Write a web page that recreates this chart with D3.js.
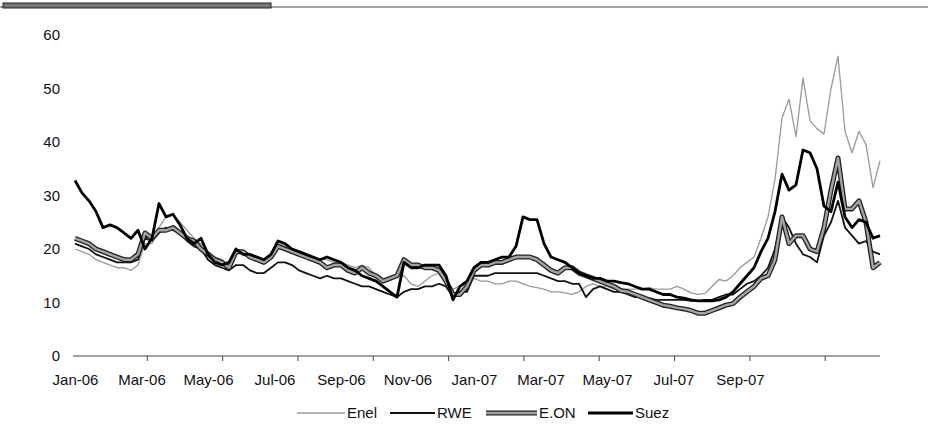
<!DOCTYPE html>
<html><head><meta charset="utf-8">
<script src="https://cdn.jsdelivr.net/npm/d3@7"></script>
<style>
html,body{margin:0;padding:0;background:#fff;}
svg text{font-family:"Liberation Sans",Arial,sans-serif;fill:#111;}
</style></head>
<body><svg id="c" width="928" height="431"></svg>
<script>
// ---- data (evenly spaced observations, Jan-06 .. early Oct-07) ----
const monthLabels = ["Jan-06","Mar-06","May-06","Jul-06","Sep-06","Nov-06","Jan-07","Mar-07","May-07","Jul-07","Sep-07"];
const yTicks = [0,10,20,30,40,50,60];
const seriesNames = ["Enel","RWE","E.ON","Suez"];

const suez = [32.8,30.5,29,27,24,24.5,24,23,22,23.5,20,22,28.5,26,26.5,24.5,22,21,22,19,
17.5,17,17.5,20,19,19,18.5,18,19,21.5,21,20,19.5,19,18.5,18,18.5,18,17.5,16.5,
16,15,14.5,14,13,12,11,17.5,16.5,16.5,17,17,17,15,10.5,13,14,16.5,17.5,17.5,
18,18.5,18.5,20.5,26,25.5,25.5,21,18.5,18,17.5,16.5,15.5,15,14.5,14.5,14,14,13.7,13.5,
13,12.5,12.5,12,11.5,11.5,11,10.8,10.5,10.3,10.3,10.3,10.5,11,12,13.5,15,16.5,19.5,22,
27,34,31,32,38.5,38,35,28,27,32.5,26,24,25.5,25,22,22.5];

const rwe = [21,20.5,20,19,18.5,18,17.5,17.5,17.5,18,22,21.5,23,24,23.5,23,21.5,20.5,20,18,
17,16.5,16,17,17,16,15.5,15.5,16.5,17.5,17.5,17,16,15.5,15,14.5,15,14.5,14.5,14,
13.5,13,13,12.5,12,11.5,11,12,12.5,12.5,13,13,13.5,13,11,12,12,15,15,15,
15.5,15.5,15.5,15.5,15.5,15.5,15.5,15,14.5,14,14,13.5,13.5,11,12.5,13,12.5,12,12,11.5,
11,11,10.8,10.5,10.5,10.5,10.5,10.5,10.3,10.3,10.5,10.5,11,11.5,11.5,12.5,13.5,14,15,16.5,
20,26,24,21,19,18.5,17.5,22.5,25,29,24,22.5,21,21.5,19.5,19];

const eon = [22,21.5,21,20,19.5,19,18.5,18,18,19,23,22,23.5,23.5,24,23,22,21.5,20,19,
18,17.5,16.5,19.5,19.5,18.5,18,17.5,18.5,20.5,20,19.5,19,18.5,18,17.5,16.5,17,17,16,
15.5,16.5,15.5,15,14,14.5,15,18,17,17,16.5,16.5,16,14,11.5,11.5,13,16,17,17,
17.5,17.5,18,18.5,18.5,18.5,18,17,16,15.5,16.5,16.5,15.5,15,14.5,14,13.5,13,12.2,12,
11.5,11,10.5,10,9.5,9.3,9,8.8,8.5,8,8,8.5,9,9.5,9.8,11,12,13,14.5,15,
18,26,21,22.5,22.5,20,19.5,24,31,37,27.5,27.5,29,25,16.5,17.5];

const enel = [20,19.5,19,18,17.5,17,16.5,16.5,16,17,21,21,24,26,26.5,25,23.5,22,21,19.5,
18.5,18,17,19,19.5,19,18.5,18,19,21,20.5,20,19.5,19,18.5,18,18,17.5,17.5,17,
16.5,17,16.5,15,14,14.5,15,15,13.5,13,14,15,15.5,14,12.5,13,13.5,14.5,14,14,
13.5,13.5,14,14,13.5,13,12.8,12.5,12,12,11.8,11.5,12,13,13.5,13,13,12.5,12.5,12.5,
12.5,12.5,12.8,12.5,12.5,12.5,13,12.5,11.8,11.5,11.7,13,14.3,14,15,16.5,17.5,18.5,22,26,
33,44.5,48,41,52,44,42.5,41.5,50,56,42,38,42,39.5,31.5,36.5];

const LABEL_STEP = 9.5;    // observations between month labels
const TICK_STEP = 10.76;   // observations between axis tick marks
const TICK_OFFSET = -0.5;  // tick phase, in observations

// ---- layout ----
const svg = d3.select("#c");
const N = suez.length;
const x = d3.scaleLinear().domain([0, N-1]).range([75, 880]);
const y = d3.scaleLinear().domain([0, 60]).range([356, 35]);

// header rule
svg.append("line").attr("x1",0).attr("x2",928).attr("y1",7).attr("y2",7)
  .attr("stroke","#444").attr("stroke-width",1.2);
svg.append("rect").attr("x",3).attr("y",3).attr("width",268).attr("height",5)
  .attr("fill","#777").attr("stroke","#222").attr("stroke-width",1);

// y axis labels
const yAx = svg.append("g").attr("transform","translate(75,0)")
  .call(d3.axisLeft(y).tickValues(yTicks).tickSize(0).tickPadding(15));
yAx.select(".domain").remove();
yAx.selectAll("text").style("font-size","15px").attr("font-family",null);

// x axis line + tick marks
const tickIdx = d3.range(1, 11).map(k => k*TICK_STEP + TICK_OFFSET);
const xTickAx = svg.append("g").attr("transform",`translate(0,${y(0)})`)
  .call(d3.axisBottom(x).tickValues(tickIdx).tickSize(5).tickSizeOuter(0).tickFormat(""));
xTickAx.select(".domain").attr("stroke","#444").attr("d",`M73,0H880`);
xTickAx.selectAll(".tick line").attr("stroke","#444");

// x labels
const labIdx = monthLabels.map((_,i)=>i*LABEL_STEP);
const xLab = svg.append("g").attr("transform",`translate(0,${y(0)})`)
  .call(d3.axisBottom(x).tickValues(labIdx).tickSize(0).tickPadding(18)
    .tickFormat((d,i)=>monthLabels[i]));
xLab.select(".domain").remove();
xLab.selectAll("text").style("font-size","15px").attr("font-family",null);

// lines
const line = d3.line().x((d,i)=>x(i)).y(d=>y(d)).curve(d3.curveLinear);
const styles = {
  "Enel": [{stroke:"#9a9a9a", w:1.3}],
  "RWE":  [{stroke:"#111", w:1.8}],
  "E.ON": [{stroke:"#222", w:5}, {stroke:"#a3a3a3", w:2.4}],
  "Suez": [{stroke:"#000", w:2.8}]
};
const dataBy = {"Enel":enel, "RWE":rwe, "E.ON":eon, "Suez":suez};
const g = svg.append("g").attr("fill","none").attr("stroke-linejoin","round");
seriesNames.forEach(n=>{
  styles[n].forEach(s=>{
    g.append("path").datum(dataBy[n]).attr("d",line)
      .attr("stroke",s.stroke).attr("stroke-width",s.w);
  });
});

// legend
const legX = [297, 390, 486, 588];
const legLen = [48, 45, 51, 45];
const leg = svg.append("g");
seriesNames.forEach((n,k)=>{
  styles[n].forEach(s=>{
    leg.append("line").attr("x1",legX[k]).attr("x2",legX[k]+legLen[k])
      .attr("y1",413).attr("y2",413).attr("stroke",s.stroke).attr("stroke-width",s.w);
  });
  leg.append("text").attr("x",legX[k]+legLen[k]+2).attr("y",413).attr("dy","0.35em")
    .style("font-size","15px").text(n);
});
</script></body></html>
